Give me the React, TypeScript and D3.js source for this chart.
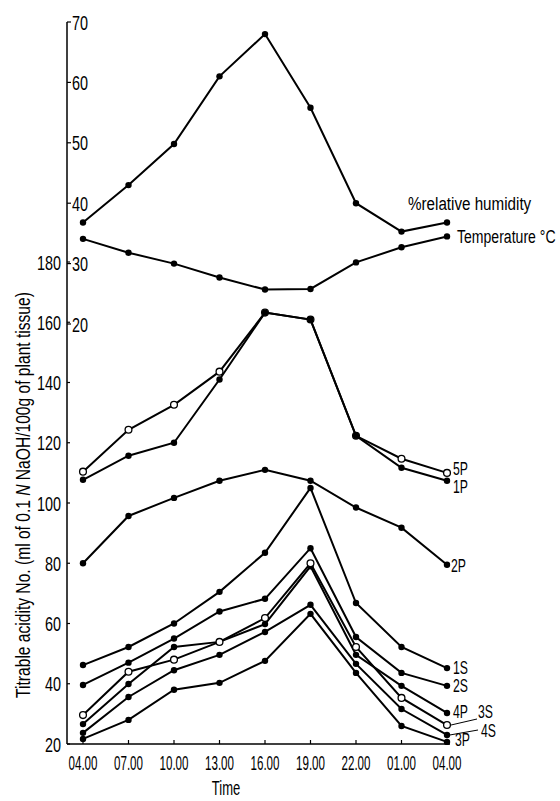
import React from "react";
import * as d3 from "d3";

const times = ["04.00", "07.00", "10.00", "13.00", "16.00", "19.00", "22.00", "01.00", "04.00"];
const acidTicks = [20, 40, 60, 80, 100, 120, 140, 160, 180];
const climTicks = [20, 30, 40, 50, 60, 70];

const humidity = [36.8, 43, 49.8, 61, 68, 55.8, 40, 35.3, 36.8];
const temperature = [34.1, 31.8, 30, 27.7, 25.7, 25.8, 30.2, 32.7, 34.5];

const p5 = [110.4, 124.3, 132.6, 143.6, 163.2, 160.9, 122.3, 114.7, 110];
const p1 = [107.7, 115.7, 120, 141, 163.2, 160.9, 122.3, 111.7, 107.4];
const p2 = [80, 95.7, 101.7, 107.4, 111, 107.4, 98.5, 91.8, 79.5];
const s1 = [46.2, 52.2, 60, 70.5, 83.5, 105, 66.8, 52.2, 45.2];
const s2 = [39.6, 47, 55, 64, 68.2, 85, 55.5, 43.6, 39.3];
const s3 = [29.6, 44, 48, 53.9, 61.8, 80, 52.2, 35.3, 26.3];
const p4 = [26.6, 39.9, 52.2, 53.9, 59.8, 79, 49.6, 39.3, 30.3];
const s4 = [23.7, 35.6, 44.5, 49.6, 57.2, 66.2, 46.6, 31.6, 23];
const p3 = [21.7, 28, 38, 40.3, 47.6, 63.2, 43.6, 26, 20.7];

const FONT = "'Liberation Sans', Arial, sans-serif";

function T(props: {
  x: number;
  y: number;
  size: number;
  sx: number;
  anchor?: string;
  children: React.ReactNode;
}) {
  const { x, y, size, sx, anchor, children } = props;
  return (
    <text
      transform={`translate(${x},${y}) scale(${sx},1)`}
      fontSize={size}
      textAnchor={anchor || "start"}
      fill="#000"
    >
      {children}
    </text>
  );
}

export default function App() {
  const idx = times.map((_, i) => i);
  const x = d3.scalePoint<number>().domain(idx).range([83, 447]);
  const yA = d3.scaleLinear().domain([20, 180]).range([744, 262]);
  const yC = d3.scaleLinear().domain([20, 70]).range([324, 22]);
  const axisX = 67;
  const baseY = yA(20);

  const lineA = d3.line<number>().x((_, i) => x(i)!).y((d) => yA(d));
  const lineC = d3.line<number>().x((_, i) => x(i)!).y((d) => yC(d));

  const climSeries = [
    { v: humidity, label: "%relative humidity", lx: 408, ly: 210, sx: 0.8 },
    { v: temperature, label: "Temperature °C", lx: 457, ly: 243, sx: 0.74 },
  ];

  const acidSeries = [
    { v: p5, open: true, label: "5P", lx: 453, ly: 475 },
    { v: p1, open: false, label: "1P", lx: 453, ly: 493 },
    { v: p2, open: false, label: "2P", lx: 451, ly: 572 },
    { v: s1, open: false, label: "1S", lx: 453, ly: 674 },
    { v: s2, open: false, label: "2S", lx: 453, ly: 692 },
    { v: p4, open: false, label: "4P", lx: 453, ly: 718 },
    { v: s3, open: true, label: "3S", lx: 478, ly: 718 },
    { v: s4, open: false, label: "4S", lx: 481, ly: 737 },
    { v: p3, open: false, label: "3P", lx: 455, ly: 746 },
  ];

  return (
    <svg
      width={560}
      height={801}
      style={{ position: "absolute", left: 0, top: 0, background: "#fff" }}
      fontFamily={FONT}
    >
      <line x1={axisX} x2={axisX} y1={yC(70)} y2={baseY} stroke="#000" strokeWidth={1.5} />
      <line x1={axisX} x2={450} y1={baseY} y2={baseY} stroke="#000" strokeWidth={1.5} />

      {climTicks.map((t) => (
        <g key={"c" + t}>
          <line x1={axisX} x2={axisX + 4} y1={yC(t)} y2={yC(t)} stroke="#000" strokeWidth={1.2} />
          <T x={axisX + 5} y={yC(t) + 7.5} size={20} sx={0.72}>
            {t}
          </T>
        </g>
      ))}

      {acidTicks.map((t) => (
        <g key={"a" + t}>
          <line x1={axisX} x2={axisX + 3} y1={yA(t)} y2={yA(t)} stroke="#000" strokeWidth={1.2} />
          <T x={61} y={yA(t) + 7.5} size={20} sx={0.72} anchor="end">
            {t}
          </T>
        </g>
      ))}

      {idx.map((i) => (
        <g key={"x" + i}>
          <line x1={x(i)!} x2={x(i)!} y1={baseY} y2={baseY - 4} stroke="#000" strokeWidth={1.2} />
          <T x={x(i)!} y={770} size={20} sx={0.58} anchor="middle">
            {times[i]}
          </T>
        </g>
      ))}
      <T x={226} y={795} size={21} sx={0.62} anchor="middle">
        Time
      </T>

      <text
        transform={`translate(30,495) rotate(-90) scale(0.78,1)`}
        fontSize={20}
        textAnchor="middle"
        fill="#000"
      >
        Titrable acidity No. (ml of 0.1 <tspan fontStyle="italic">N</tspan> NaOH/100g of plant tissue)
      </text>

      {climSeries.map((s, k) => (
        <g key={"cs" + k}>
          <path d={lineC(s.v)!} fill="none" stroke="#000" strokeWidth={2} />
          {s.v.map((d, i) => (
            <circle key={i} cx={x(i)!} cy={yC(d)} r={3.2} fill="#000" />
          ))}
          <T x={s.lx} y={s.ly} size={19} sx={s.sx}>
            {s.label}
          </T>
        </g>
      ))}

      {acidSeries.map((s, k) => (
        <g key={"as" + k}>
          <path d={lineA(s.v)!} fill="none" stroke="#000" strokeWidth={2} />
          {s.v.map((d, i) =>
            s.open ? (
              <circle key={i} cx={x(i)!} cy={yA(d)} r={3.4} fill="#fff" stroke="#000" strokeWidth={1.3} />
            ) : (
              <circle key={i} cx={x(i)!} cy={yA(d)} r={3.2} fill="#000" />
            )
          )}
          <T x={s.lx} y={s.ly} size={18} sx={0.68}>
            {s.label}
          </T>
        </g>
      ))}

      <line x1={x(8)! + 4} y1={yA(s3[8])} x2={477} y2={719} stroke="#000" strokeWidth={1} />
      <line x1={x(8)! + 3} y1={yA(s4[8])} x2={478} y2={730} stroke="#000" strokeWidth={1} />
    </svg>
  );
}
